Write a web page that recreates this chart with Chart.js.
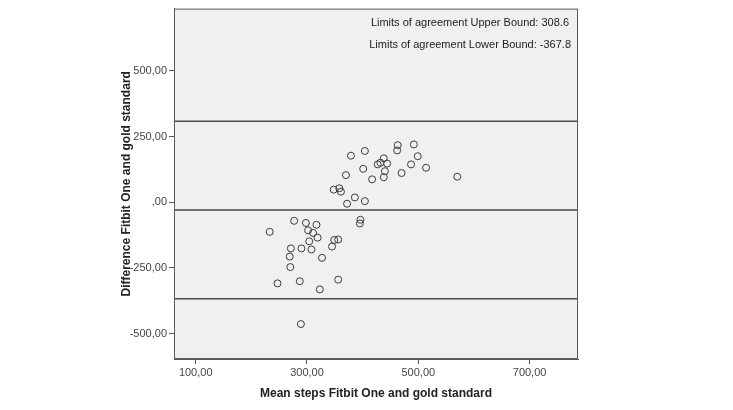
<!DOCTYPE html>
<html>
<head>
<meta charset="utf-8">
<script src="https://cdn.jsdelivr.net/npm/chart.js@4.4.1/dist/chart.umd.min.js"></script>
<style>
  html, body { margin: 0; padding: 0; background: #fff; }
  #wrap { width: 733px; height: 410px; }
</style>
</head>
<body>
<div id="wrap"><canvas id="chart" width="733" height="410"></canvas></div>
<script>
// Mean of the two methods (x) and their difference (y)
const meanSteps = [
  379, 404, 370, 401, 417, 427, 432, 438, 444, 440,
  438, 463, 462, 492, 499, 470, 487, 514, 570, 348,
  358, 361, 386, 372, 404, 396, 395, 277, 298, 317,
  233, 302, 311, 319, 304, 349, 356, 345, 271, 290,
  308, 269, 327, 270, 247, 287, 356, 323, 289
];
const diffSteps = [
  177, 195, 103, 127, 87, 144, 150, 167, 147, 118,
  95, 217, 197, 220, 175, 111, 144, 131, 97, 48,
  53, 40, 18, -6, 4, -67, -81, -71, -79, -86,
  -113, -107, -117, -135, -149, -144, -142, -169, -176, -176,
  -180, -207, -212, -247, -309, -301, -295, -332, -464
];

const upperBound = 308.6;
const lowerBound = -367.8;
const meanDiff = (upperBound + lowerBound) / 2;

const xTicks = [100, 300, 500, 700];
const yTicks = [-500, -250, 0, 250, 500];
const xRange = [61, 787];
const yRange = [-597, 737];

const fmt = v => {
  const s = Math.abs(v).toFixed(2).replace('.', ',');
  const t = Math.abs(v) < 1 ? s.slice(1) : s;
  return (v < 0 ? '-' : '') + t;
};

const hLine = y => [{ x: xRange[0], y }, { x: xRange[1], y }];

// grey plot panel with a frame, plus the two limit notes
const panel = {
  id: 'panel',
  beforeDraw(chart) {
    const { ctx, chartArea: a } = chart;
    ctx.save();
    ctx.fillStyle = '#f0f0f0';
    ctx.fillRect(a.left, a.top, a.right - a.left, a.bottom - a.top);
    ctx.restore();
  },
  afterDraw(chart) {
    const { ctx, chartArea: a } = chart;
    ctx.save();
    ctx.strokeStyle = '#5a5a5a';
    ctx.lineWidth = 1;
    ctx.strokeRect(a.left + 0.5, a.top + 0.5, a.right - a.left - 1, a.bottom - a.top - 1);
    ctx.fillStyle = '#222';
    ctx.font = '11px "Liberation Sans", Arial, sans-serif';
    ctx.textAlign = 'right';
    ctx.textBaseline = 'middle';
    ctx.fillText('Limits of agreement Upper Bound: ' + upperBound, a.right - 9, a.top + 14);
    ctx.fillText('Limits of agreement Lower Bound: ' + lowerBound, a.right - 7, a.top + 36);
    ctx.restore();
  }
};

const lineStyle = { type: 'line', borderColor: '#4a4a4a', borderWidth: 1.5, pointRadius: 0, fill: false };

new Chart(document.getElementById('chart'), {
  type: 'scatter',
  data: {
    datasets: [
      {
        label: 'Difference',
        data: meanSteps.map((m, i) => ({ x: m, y: diffSteps[i] })),
        pointRadius: 3.5,
        pointBorderWidth: 1,
        borderColor: '#3c3c3c',
        backgroundColor: 'rgba(0,0,0,0)',
      },
      { ...lineStyle, label: 'Upper', data: hLine(upperBound) },
      { ...lineStyle, label: 'Mean', data: hLine(meanDiff) },
      { ...lineStyle, label: 'Lower', data: hLine(lowerBound) },
    ],
  },
  options: {
    responsive: false,
    animation: false,
    layout: { padding: { top: 6, right: 155, left: 115, bottom: 9 } },
    plugins: { legend: { display: false }, tooltip: { enabled: false } },
    scales: {
      x: {
        type: 'linear',
        min: xRange[0],
        max: xRange[1],
        afterBuildTicks: s => { s.ticks = xTicks.map(v => ({ value: v })); },
        afterFit: s => { s.height = 42; },
        grid: { drawOnChartArea: false, drawTicks: true, tickLength: 5, tickColor: '#555' },
        border: { display: true, color: '#5a5a5a' },
        ticks: {
          callback: v => fmt(v),
          color: '#444',
          font: { family: '"Liberation Sans", Arial', size: 11 },
          padding: 2,
          maxRotation: 0,
        },
        title: {
          display: true,
          text: 'Mean steps Fitbit One and gold standard',
          color: '#222',
          font: { family: '"Liberation Sans", Arial', size: 12, weight: 'bold' },
          padding: { top: 2, bottom: 0 },
        },
      },
      y: {
        type: 'linear',
        min: yRange[0],
        max: yRange[1],
        afterBuildTicks: s => { s.ticks = yTicks.map(v => ({ value: v })); },
        afterFit: s => { s.width = 59; },
        grid: { drawOnChartArea: false, drawTicks: true, tickLength: 5, tickColor: '#555' },
        border: { display: true, color: '#5a5a5a' },
        ticks: {
          callback: v => fmt(v),
          color: '#444',
          font: { family: '"Liberation Sans", Arial', size: 11 },
          padding: 2,
        },
        title: {
          display: true,
          text: 'Difference Fitbit One and gold standard',
          color: '#222',
          font: { family: '"Liberation Sans", Arial', size: 12, weight: 'bold' },
          padding: { top: 4, bottom: 0 },
        },
      },
    },
  },
  plugins: [panel],
});
</script>
</body>
</html>
